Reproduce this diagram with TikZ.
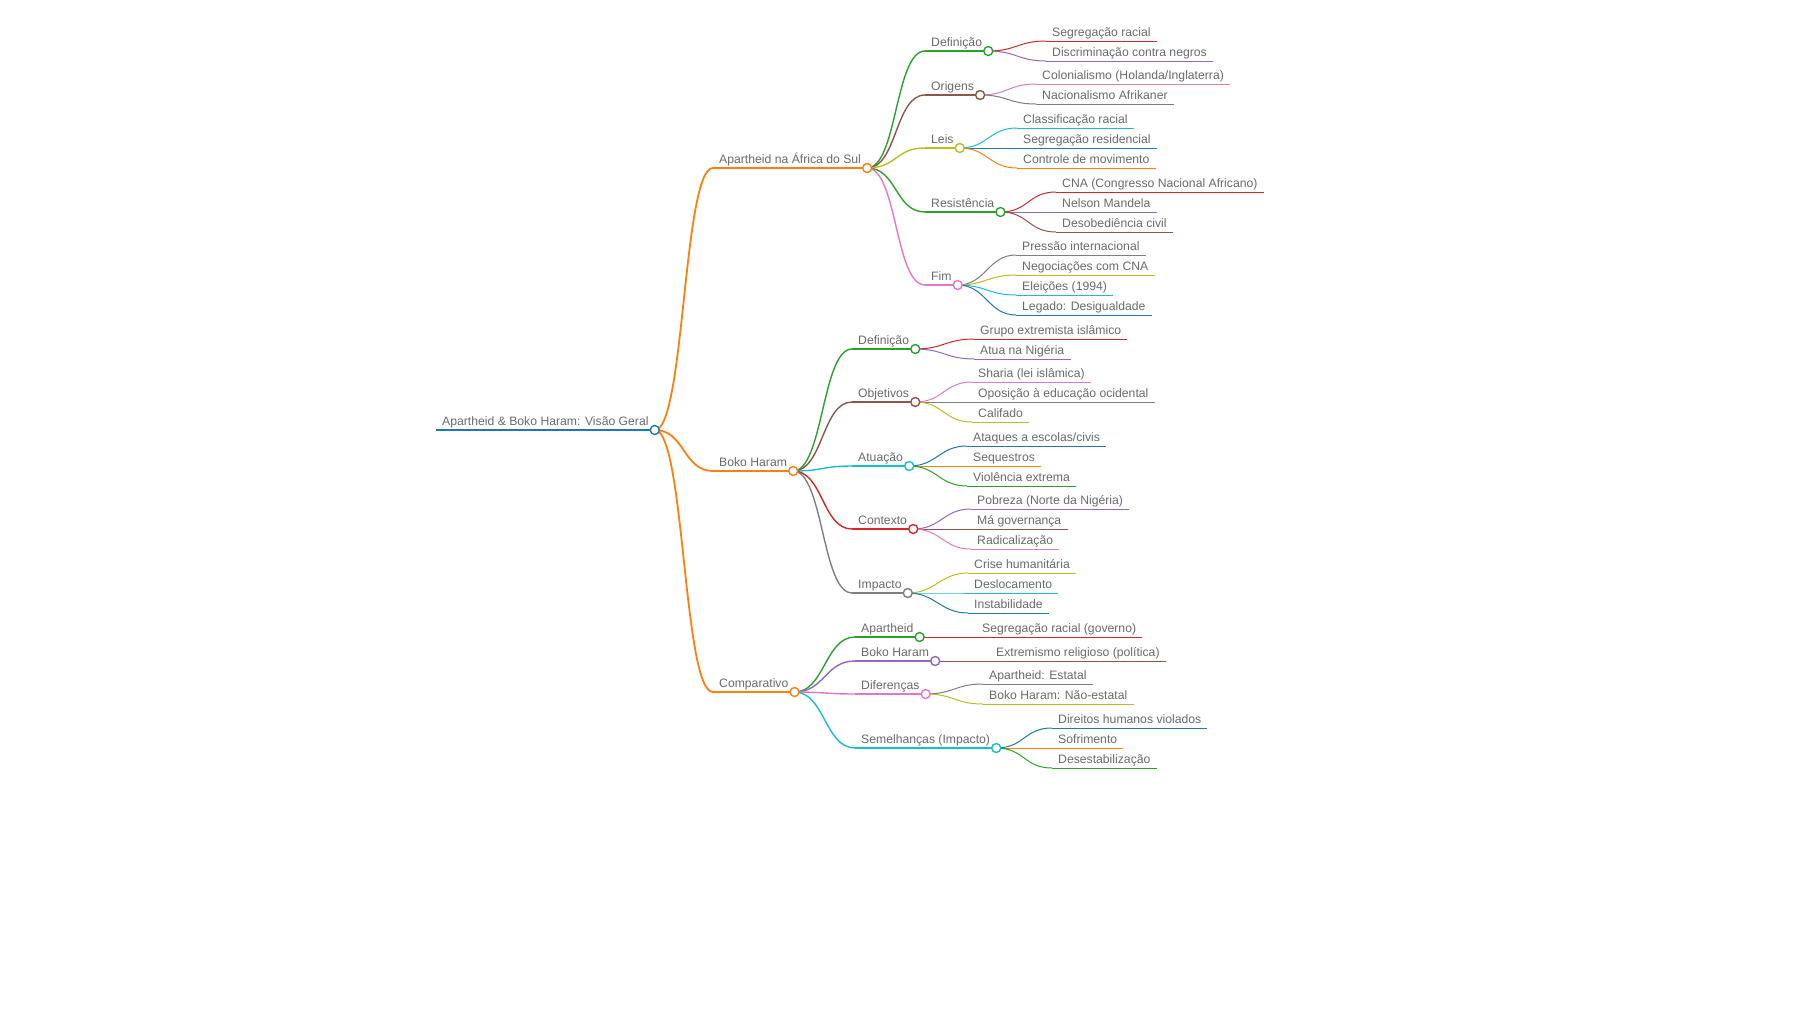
\documentclass[tikz,border=0pt]{standalone}
\usepackage{fontspec}
\setmainfont{Liberation Sans}

\definecolor{mmblue}{HTML}{1F77B4}
\definecolor{mmorange}{HTML}{FF7F0E}
\definecolor{mmgreen}{HTML}{2CA02C}
\definecolor{mmred}{HTML}{D62728}
\definecolor{mmpurple}{HTML}{9467BD}
\definecolor{mmbrown}{HTML}{8C564B}
\definecolor{mmpink}{HTML}{E377C2}
\definecolor{mmgray}{HTML}{7F7F7F}
\definecolor{mmolive}{HTML}{BCBD22}
\definecolor{mmcyan}{HTML}{17BECF}
\definecolor{txtgray}{HTML}{6A6A6A}

\tikzset{
  topic/.style={anchor=south west, inner xsep=6pt, inner ysep=0pt, text height=9pt, text depth=4pt,
    font=\fontsize{12.2}{14}\selectfont, text=txtgray},
  root/.style={topic, append after command={(\tikzlastnode.south west) edge[draw=#1, line width=2.2pt] (\tikzlastnode.south east)}},
  branch/.style={topic, append after command={(\tikzlastnode.south west) edge[draw=#1, line width=1.8pt] (\tikzlastnode.south east)}},
  sub/.style={topic, append after command={(\tikzlastnode.south west) edge[draw=#1, line width=1.4pt] (\tikzlastnode.south east)}},
  leaf/.style={topic, append after command={(\tikzlastnode.south west) edge[draw=#1, line width=1pt] (\tikzlastnode.south east)}},
  wire/.style={draw=#1, line width=1pt},
  wirebig/.style={draw=#1, line width=1.8pt},
  wiremid/.style={draw=#1, line width=1.4pt},
  knob/.style={circle, draw=#1, fill=white, line width=1.4pt, minimum size=9pt, inner sep=0pt},
}

\begin{document}
\begin{tikzpicture}[x=1pt, y=-1pt]
        \useasboundingbox (0,0) rectangle (1800,1012);

        %-----Topics-----

        % Root
        \node[root=mmblue] (root) at (436,430) {Apartheid \& Boko Haram: Visão Geral};

        % Main branches
        \node[branch=mmorange] (apt) at (713,168) {Apartheid na África do Sul};
        \node[branch=mmorange] (boko) at (713,471) {Boko Haram};
        \node[branch=mmorange] (cmp) at (713,692) {Comparativo};

        % Apartheid na Africa do Sul
        \node[sub=mmgreen] (aptdef) at (925,51) {Definição};
        \node[sub=mmbrown] (aptori) at (925,95) {Origens};
        \node[sub=mmolive] (aptleis) at (925,148) {Leis};
        \node[sub=mmgreen] (aptres) at (925,212) {Resistência};
        \node[sub=mmpink] (aptfim) at (925,285) {Fim};

        \node[leaf=mmred] (aptdef1) at (1046,41) {Segregação racial};
        \node[leaf=mmpurple] (aptdef2) at (1046,61) {Discriminação contra negros};
        \node[leaf=mmpink] (aptori1) at (1036,84) {Colonialismo (Holanda/Inglaterra)};
        \node[leaf=mmgray] (aptori2) at (1036,104) {Nacionalismo Afrikaner};
        \node[leaf=mmcyan] (aptleis1) at (1017,128) {Classificação racial};
        \node[leaf=mmblue] (aptleis2) at (1017,148) {Segregação residencial};
        \node[leaf=mmorange] (aptleis3) at (1017,168) {Controle de movimento};
        \node[leaf=mmred] (aptres1) at (1056,192) {CNA (Congresso Nacional Africano)};
        \node[leaf=mmpurple] (aptres2) at (1056,212) {Nelson Mandela};
        \node[leaf=mmbrown] (aptres3) at (1056,232) {Desobediência civil};
        \node[leaf=mmgray] (aptfim1) at (1016,255) {Pressão internacional};
        \node[leaf=mmolive] (aptfim2) at (1016,275) {Negociações com CNA};
        \node[leaf=mmcyan] (aptfim3) at (1016,295) {Eleições (1994)};
        \node[leaf=mmblue] (aptfim4) at (1016,315) {Legado: Desigualdade};

        % Boko Haram
        \node[sub=mmgreen] (bokodef) at (852,349) {Definição};
        \node[sub=mmbrown] (bokoobj) at (852,402) {Objetivos};
        \node[sub=mmcyan] (bokoatu) at (852,466) {Atuação};
        \node[sub=mmred] (bokoctx) at (852,529) {Contexto};
        \node[sub=mmgray] (bokoimp) at (852,593) {Impacto};

        \node[leaf=mmred] (bokodef1) at (974,339) {Grupo extremista islâmico};
        \node[leaf=mmpurple] (bokodef2) at (974,359) {Atua na Nigéria};
        \node[leaf=mmpink] (bokoobj1) at (972,382) {Sharia (lei islâmica)};
        \node[leaf=mmgray] (bokoobj2) at (972,402) {Oposição à educação ocidental};
        \node[leaf=mmolive] (bokoobj3) at (972,422) {Califado};
        \node[leaf=mmblue] (bokoatu1) at (967,446) {Ataques a escolas/civis};
        \node[leaf=mmorange] (bokoatu2) at (967,466) {Sequestros};
        \node[leaf=mmgreen] (bokoatu3) at (967,486) {Violência extrema};
        \node[leaf=mmpurple] (bokoctx1) at (971,509) {Pobreza (Norte da Nigéria)};
        \node[leaf=mmbrown] (bokoctx2) at (971,529) {Má governança};
        \node[leaf=mmpink] (bokoctx3) at (971,549) {Radicalização};
        \node[leaf=mmolive] (bokoimp1) at (968,573) {Crise humanitária};
        \node[leaf=mmcyan] (bokoimp2) at (968,593) {Deslocamento};
        \node[leaf=mmblue] (bokoimp3) at (968,613) {Instabilidade};

        % Comparativo
        \node[sub=mmgreen] (cmpapt) at (855,637) {Apartheid};
        \node[sub=mmpurple] (cmpboko) at (855,661) {Boko Haram};
        \node[sub=mmpink] (cmpdif) at (855,694) {Diferenças};
        \node[sub=mmcyan] (cmpsem) at (855,748) {Semelhanças (Impacto)};

        \node[leaf=mmred] (cmpapt1) at (976,637) {Segregação racial (governo)};
        \node[leaf=mmbrown] (cmpboko1) at (990,661) {Extremismo religioso (política)};
        \node[leaf=mmgray] (cmpdif1) at (983,684) {Apartheid: Estatal};
        \node[leaf=mmolive] (cmpdif2) at (983,704) {Boko Haram: Não-estatal};
        \node[leaf=mmblue] (cmpsem1) at (1052,728) {Direitos humanos violados};
        \node[leaf=mmorange] (cmpsem2) at (1052,748) {Sofrimento};
        \node[leaf=mmgreen] (cmpsem3) at (1052,768) {Desestabilização};

        %-----Links-----

        % Root to main branches
        \foreach \b in {apt, boko, cmp}
          \draw[wirebig=mmorange] (root.south east) .. controls +(30,0) and +(-30,0) .. (\b.south west);

        % Main branches to topics
        \foreach \a/\b/\c in {apt/aptdef/mmgreen, apt/aptori/mmbrown, apt/aptleis/mmolive, apt/aptres/mmgreen, apt/aptfim/mmpink,
            boko/bokodef/mmgreen, boko/bokoobj/mmbrown, boko/bokoatu/mmcyan, boko/bokoctx/mmred, boko/bokoimp/mmgray,
            cmp/cmpapt/mmgreen, cmp/cmpboko/mmpurple, cmp/cmpdif/mmpink, cmp/cmpsem/mmcyan}
          \draw[wiremid=\c] (\a.south east) .. controls +(30,0) and +(-30,0) .. (\b.south west);

        % Topics to leaves
        \foreach \a/\b/\c in {aptdef/aptdef1/mmred, aptdef/aptdef2/mmpurple, aptori/aptori1/mmpink, aptori/aptori2/mmgray,
            aptleis/aptleis1/mmcyan, aptleis/aptleis2/mmblue, aptleis/aptleis3/mmorange,
            aptres/aptres1/mmred, aptres/aptres2/mmpurple, aptres/aptres3/mmbrown,
            aptfim/aptfim1/mmgray, aptfim/aptfim2/mmolive, aptfim/aptfim3/mmcyan, aptfim/aptfim4/mmblue,
            bokodef/bokodef1/mmred, bokodef/bokodef2/mmpurple,
            bokoobj/bokoobj1/mmpink, bokoobj/bokoobj2/mmgray, bokoobj/bokoobj3/mmolive,
            bokoatu/bokoatu1/mmblue, bokoatu/bokoatu2/mmorange, bokoatu/bokoatu3/mmgreen,
            bokoctx/bokoctx1/mmpurple, bokoctx/bokoctx2/mmbrown, bokoctx/bokoctx3/mmpink,
            bokoimp/bokoimp1/mmolive, bokoimp/bokoimp2/mmcyan, bokoimp/bokoimp3/mmblue,
            cmpapt/cmpapt1/mmred, cmpboko/cmpboko1/mmbrown, cmpdif/cmpdif1/mmgray, cmpdif/cmpdif2/mmolive,
            cmpsem/cmpsem1/mmblue, cmpsem/cmpsem2/mmorange, cmpsem/cmpsem3/mmgreen}
          \draw[wire=\c] (\a.south east) .. controls +(28,0) and +(-28,0) .. (\b.south west);

        %-----Knobs-----
        \foreach \n/\c in {root/mmblue, apt/mmorange, boko/mmorange, cmp/mmorange,
            aptdef/mmgreen, aptori/mmbrown, aptleis/mmolive, aptres/mmgreen, aptfim/mmpink,
            bokodef/mmgreen, bokoobj/mmbrown, bokoatu/mmcyan, bokoctx/mmred, bokoimp/mmgray,
            cmpapt/mmgreen, cmpboko/mmpurple, cmpdif/mmpink, cmpsem/mmcyan}
          \node[knob=\c] (\n-knob) at (\n.south east) {};

\end{tikzpicture}
\end{document}
